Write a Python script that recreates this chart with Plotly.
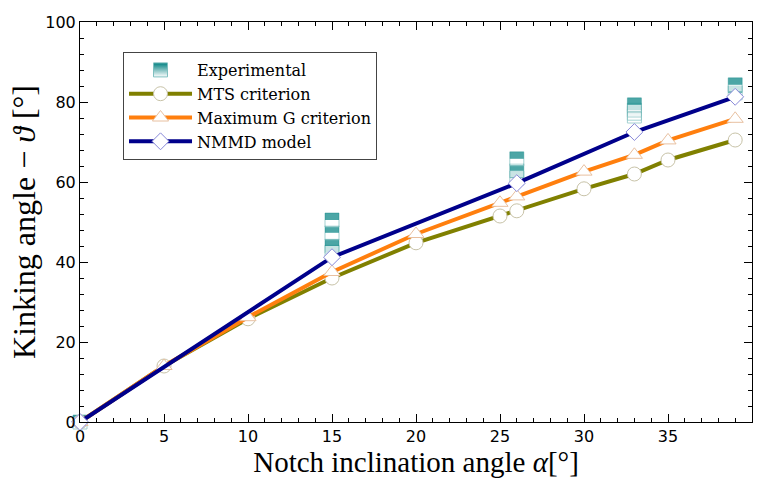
import plotly.graph_objects as go

# ---- data ----
exp_x = [0, 15, 15, 15, 15, 26, 26, 26, 33, 33, 33, 33, 39, 39]
exp_y = [0, 42.5, 44.0, 47.3, 50.5, 61.0, 62.8, 65.8, 76.5, 77.2, 78.0, 79.3, 82.3, 84.3]

mts_x = [0, 5, 10, 15, 20, 25, 26, 30, 33, 35, 39]
mts_y = [0, 14.0, 25.8, 36.0, 44.8, 51.5, 52.8, 58.3, 62.0, 65.5, 70.5]

maxg_x = [0, 5, 10, 15, 20, 25, 26, 30, 33, 35, 39]
maxg_y = [0, 14.0, 26.2, 37.5, 47.0, 54.8, 56.4, 62.6, 66.8, 70.4, 75.8]

nmmd_x = [0, 15, 26, 33, 39]
nmmd_y = [0, 41.2, 59.7, 72.5, 81.3]

# ---- layout geometry ----
W, H = 761, 486
ML, MR, MT, MB = 80, 9, 22, 64
Y_RANGE = [0, 100]
X_RANGE = [0, 40]
plot_h = H - MT - MB
units_per_px = (Y_RANGE[1] - Y_RANGE[0]) / plot_h

SQ = 14
TEAL = "#008080"
TEAL_EDGE = "#7fbfbf"

# experimental: half-filled squares, drawn low to high
order = sorted(range(len(exp_y)), key=lambda i: (exp_x[i], exp_y[i]))
ex, ey, sym, col, lcol, lw, sz = [], [], [], [], [], [], []
for i in order:
    ex += [exp_x[i], exp_x[i]]
    ey += [exp_y[i], exp_y[i] + (SQ / 4) * units_per_px]
    sym += ["square", "line-ew-open"]
    col += ["white", TEAL]
    lcol += [TEAL_EDGE, TEAL]
    lw += [1, SQ / 2]
    sz += [SQ, SQ / 1.4]

serif = "Liberation Serif"

fig = go.Figure()

fig.add_trace(go.Scatter(
    x=ex, y=ey, mode="markers", showlegend=False, hoverinfo="skip", cliponaxis=False,
    marker=dict(symbol=sym, color=col, size=sz, line=dict(color=lcol, width=lw)),
))

fig.add_trace(go.Scatter(
    x=mts_x, y=mts_y, mode="lines+markers", showlegend=False, cliponaxis=False,
    line=dict(color="#808000", width=4),
    marker=dict(symbol="circle", size=14, color="white", line=dict(color="#c8c3a8", width=1)),
))
fig.add_trace(go.Scatter(
    x=maxg_x, y=maxg_y, mode="lines+markers", showlegend=False, cliponaxis=False,
    line=dict(color="#ff7f0e", width=4),
    marker=dict(symbol="triangle-up", size=14, color="white", line=dict(color="#e8c0a0", width=1)),
))
fig.add_trace(go.Scatter(
    x=nmmd_x, y=nmmd_y, mode="lines+markers", showlegend=False, cliponaxis=False,
    line=dict(color="#00008b", width=4),
    marker=dict(symbol="diamond", size=13, color="white", line=dict(color="#8888d8", width=1)),
))

# legend-only entries
fig.add_trace(go.Scatter(
    x=[None], y=[None], mode="markers", name="Experimental",
    marker=dict(symbol="square", size=SQ, color=TEAL, line=dict(color=TEAL_EDGE, width=1),
                gradient=dict(type="vertical", color="white")),
))
fig.add_trace(go.Scatter(
    x=[None], y=[None], mode="lines+markers", name="MTS criterion",
    line=dict(color="#808000", width=4),
    marker=dict(symbol="circle", size=14, color="white", line=dict(color="#c8c3a8", width=1)),
))
fig.add_trace(go.Scatter(
    x=[None], y=[None], mode="lines+markers", name="Maximum G criterion",
    line=dict(color="#ff7f0e", width=4),
    marker=dict(symbol="triangle-up", size=14, color="white", line=dict(color="#e8c0a0", width=1)),
))
fig.add_trace(go.Scatter(
    x=[None], y=[None], mode="lines+markers", name="NMMD model",
    line=dict(color="#00008b", width=4),
    marker=dict(symbol="diamond", size=13, color="white", line=dict(color="#8888d8", width=1)),
))

axis_common = dict(
    showgrid=False, zeroline=False, showline=True, linecolor="black", linewidth=1,
    mirror="ticks", ticks="inside", ticklen=8, tickwidth=1, tickcolor="black",
    tickfont=dict(family="DejaVu Sans", size=16, color="black"),
)

fig.update_layout(
    width=W, height=H,
    margin=dict(l=ML, r=MR, t=MT, b=MB),
    paper_bgcolor="white", plot_bgcolor="white",
    xaxis=dict(range=X_RANGE, dtick=5, tick0=0,
               minor=dict(dtick=1, ticks="inside", ticklen=4, tickcolor="black"),
               title=dict(text="Notch inclination angle <i>α</i>[°]",
                          font=dict(family=serif, size=29, color="black"), standoff=4),
               **axis_common),
    yaxis=dict(range=Y_RANGE, dtick=20, tick0=0,
               minor=dict(dtick=4, ticks="inside", ticklen=4, tickcolor="black"),
               title=dict(text="Kinking angle − <i>ϑ</i> [°]",
                          font=dict(family=serif, size=32, color="black"), standoff=0),
               **axis_common),
    legend=dict(x=0.064, y=0.925, xanchor="left", yanchor="top",
                bgcolor="white", bordercolor="#444", borderwidth=1,
                font=dict(family="DejaVu Serif", size=16, color="black"),
                itemwidth=63, tracegroupgap=0),
    showlegend=True,
)

fig.write_html("out.html")
